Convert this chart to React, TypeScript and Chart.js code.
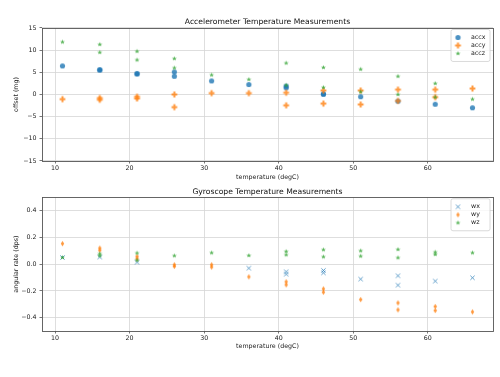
import React, { useEffect, useRef } from 'react';
import { Chart, registerables } from 'chart.js';
Chart.register(...registerables);

// ---------- Data ----------
const accTitle = 'Accelerometer Temperature Measurements';
const gyroTitle = 'Gyroscope Temperature Measurements';
const xAxisLabel = 'temperature (degC)';
const accYLabel = 'offset (mg)';
const gyroYLabel = 'angular rate (dps)';

const xTickValues = [10, 20, 30, 40, 50, 60];
const xTickLabels = ['10', '20', '30', '40', '50', '60'];
const accYTickValues = [-15, -10, -5, 0, 5, 10, 15];
const accYTickLabels = ['\u221215', '\u221210', '\u22125', '0', '5', '10', '15'];
const gyroYTickValues = [-0.4, -0.2, 0, 0.2, 0.4];
const gyroYTickLabels = ['\u22120.4', '\u22120.2', '0.0', '0.2', '0.4'];

const accxTemps = [11, 16, 16, 21, 21, 26, 26, 31, 36, 41, 41, 46, 46, 51, 56, 61, 66];
const accxValues = [6.45, 5.5, 5.6, 4.6, 4.75, 5.1, 4.1, 3.06, 2.25, 1.9, 1.5, 0.05, 0.15, -0.5, -1.5, -2.2, -3.0];
const accyTemps = [11, 16, 16, 21, 21, 26, 26, 31, 36, 41, 41, 46, 46, 51, 51, 56, 56, 61, 61, 66];
const accyValues = [-1.05, -0.8, -1.2, -0.5, -0.9, 0.0, -2.85, 0.3, 0.3, 0.4, -2.45, 0.9, -2.05, 0.9, -2.25, 1.1, -1.45, 1.1, -0.6, 1.35];
const acczTemps = [11, 16, 16, 21, 21, 26, 26, 31, 36, 41, 41, 46, 46, 51, 51, 56, 56, 61, 61, 66];
const acczValues = [11.85, 11.3, 9.5, 9.75, 7.8, 8.1, 6.0, 4.4, 3.4, 7.1, 2.1, 6.1, 1.6, 5.7, 0.6, 4.1, 0.0, 2.5, -0.6, -1.05];

const wxTemps = [11, 16, 21, 36, 41, 41, 46, 46, 51, 56, 56, 61, 66];
const wxValues = [0.05, 0.053, 0.015, -0.03, -0.057, -0.075, -0.047, -0.065, -0.112, -0.087, -0.157, -0.127, -0.102];
const wyTemps = [11, 16, 16, 21, 21, 26, 26, 31, 31, 36, 41, 41, 46, 46, 51, 56, 56, 61, 61, 66];
const wyValues = [0.153, 0.12, 0.103, 0.058, 0.04, -0.005, -0.017, -0.005, -0.022, -0.095, -0.132, -0.155, -0.185, -0.21, -0.265, -0.29, -0.342, -0.317, -0.347, -0.357];
const wzTemps = [11, 16, 16, 21, 21, 26, 31, 36, 41, 41, 46, 46, 51, 51, 56, 56, 61, 61, 66];
const wzValues = [0.05, 0.078, 0.063, 0.083, 0.03, 0.063, 0.085, 0.065, 0.095, 0.07, 0.108, 0.055, 0.1, 0.06, 0.11, 0.048, 0.09, 0.073, 0.085];

const BLUE = '#1f77b4';
const ORANGE = '#ff7f0e';
const GREEN = '#2ca02c';
const FONT = 'DejaVu Sans';
const TITLE_SIZE = 7.65;
const LABEL_SIZE = 6.3;

// ---------- Markers ----------
function makeMarker(kind: string, color: string): HTMLCanvasElement {
  const s = 9;
  const c = document.createElement('canvas');
  c.width = s;
  c.height = s;
  const g = c.getContext('2d')!;
  const m = s / 2;
  g.globalAlpha = 0.8;
  g.fillStyle = color;
  g.strokeStyle = color;
  g.beginPath();
  if (kind === 'o') {
    g.arc(m, m, 2.6, 0, Math.PI * 2);
    g.fill();
  } else if (kind === 'P') {
    const r = 2.9, w = 1.0;
    const pts = [
      [-w, -r], [w, -r], [w, -w], [r, -w], [r, w], [w, w], [w, r], [-w, r], [-w, w], [-r, w], [-r, -w], [-w, -w],
    ];
    pts.forEach(([px, py], i) => (i ? g.lineTo(m + px, m + py) : g.moveTo(m + px, m + py)));
    g.closePath();
    g.fill();
  } else if (kind === '*') {
    const ro = 2.6, ri = 1.05;
    for (let i = 0; i < 10; i++) {
      const a = -Math.PI / 2 + (i * Math.PI) / 5;
      const r = i % 2 ? ri : ro;
      const px = m + r * Math.cos(a), py = m + r * Math.sin(a);
      i ? g.lineTo(px, py) : g.moveTo(px, py);
    }
    g.closePath();
    g.fill();
  } else if (kind === 'x') {
    const h = 2.1;
    g.lineWidth = 0.9;
    g.moveTo(m - h, m - h); g.lineTo(m + h, m + h);
    g.moveTo(m - h, m + h); g.lineTo(m + h, m - h);
    g.stroke();
  } else if (kind === 'd') {
    const hh = 2.8, hw = 1.7;
    g.moveTo(m, m - hh); g.lineTo(m + hw, m); g.lineTo(m, m + hh); g.lineTo(m - hw, m);
    g.closePath();
    g.fill();
  }
  return c;
}

function pts(temps: number[], vals: number[]) {
  return temps.map((t, i) => ({ x: t, y: vals[i] }));
}

const framePlugin = {
  id: 'frame',
  afterDraw(chart: any) {
    const { ctx, chartArea: a } = chart;
    ctx.save();
    ctx.strokeStyle = '#555';
    ctx.lineWidth = 0.9;
    ctx.strokeRect(Math.round(a.left) + 0.5, Math.round(a.top) + 0.5, Math.round(a.right - a.left), Math.round(a.bottom - a.top));
    ctx.restore();
  },
};

function legendPlugin(items: { label: string; img: HTMLCanvasElement }[]) {
  return {
    id: 'mplLegend',
    afterDraw(chart: any) {
      const { ctx, chartArea: a } = chart;
      const w = 39, h = 32;
      const x0 = a.right - 3 - w, y0 = a.top + 1.5;
      ctx.save();
      ctx.beginPath();
      const r = 2;
      ctx.moveTo(x0 + r, y0);
      ctx.arcTo(x0 + w, y0, x0 + w, y0 + h, r);
      ctx.arcTo(x0 + w, y0 + h, x0, y0 + h, r);
      ctx.arcTo(x0, y0 + h, x0, y0, r);
      ctx.arcTo(x0, y0, x0 + w, y0, r);
      ctx.closePath();
      ctx.fillStyle = 'rgba(255,255,255,0.8)';
      ctx.fill();
      ctx.strokeStyle = '#d0d0d0';
      ctx.lineWidth = 0.8;
      ctx.stroke();
      ctx.font = `${LABEL_SIZE}px "${FONT}"`;
      ctx.fillStyle = '#222';
      ctx.textAlign = 'left';
      ctx.textBaseline = 'middle';
      items.forEach((it, i) => {
        const cy = y0 + 8 + i * 8;
        ctx.drawImage(it.img, x0 + 7 - it.img.width / 2, cy - it.img.height / 2);
        ctx.fillText(it.label, x0 + 20, cy);
      });
      ctx.restore();
    },
  };
}

function makeConfig(opts: {
  title: string;
  yLabel: string;
  yMin: number;
  yMax: number;
  yTicks: number[];
  yLabels: string[];
  datasets: any[];
  legend: { label: string; img: HTMLCanvasElement }[];
  titlePad: { top: number; bottom: number };
  bottomPad: number;
  xTitleBottom: number;
}): any {
  const gridColor = '#d6d6d6';
  return {
    type: 'scatter',
    data: { datasets: opts.datasets },
    options: {
      animation: false,
      responsive: false,
      devicePixelRatio: 1,
      events: [],
      layout: { padding: { left: 0, right: 7, top: 0, bottom: opts.bottomPad } },
      plugins: {
        legend: { display: false },
        tooltip: { enabled: false },
        title: {
          display: true,
          fullSize: false,
          text: opts.title,
          color: '#111',
          font: { family: FONT, size: TITLE_SIZE, weight: 'normal', lineHeight: 1.2 },
          padding: opts.titlePad,
        },
      },
      scales: {
        x: {
          type: 'linear',
          min: 8.25,
          max: 68.75,
          afterBuildTicks: (s: any) => {
            s.ticks = xTickValues.map((v) => ({ value: v }));
          },
          afterFit: (s: any) => {
            s.height = 21;
          },
          ticks: {
            color: '#222',
            font: { family: FONT, size: LABEL_SIZE },
            padding: 1.5,
            maxRotation: 0,
            autoSkip: false,
            callback: (v: number) => xTickLabels[xTickValues.indexOf(v)],
          },
          grid: { color: gridColor, lineWidth: 0.8, tickColor: '#555', tickLength: 2.5 },
          border: { display: false },
          title: {
            display: true,
            text: xAxisLabel,
            color: '#222',
            font: { family: FONT, size: LABEL_SIZE, lineHeight: 1.2 },
            padding: { top: 0, bottom: opts.xTitleBottom },
          },
        },
        y: {
          type: 'linear',
          min: opts.yMin,
          max: opts.yMax,
          afterBuildTicks: (s: any) => {
            s.ticks = opts.yTicks.map((v) => ({ value: v }));
          },
          afterFit: (s: any) => {
            s.width = 42;
          },
          ticks: {
            color: '#222',
            font: { family: FONT, size: LABEL_SIZE },
            padding: 3,
            autoSkip: false,
            callback: (v: number) => {
              const i = opts.yTicks.findIndex((t) => Math.abs(t - v) < 1e-9);
              return i >= 0 ? opts.yLabels[i] : '';
            },
          },
          grid: { color: gridColor, lineWidth: 0.8, tickColor: '#555', tickLength: 2.5 },
          border: { display: false },
          title: {
            display: true,
            text: opts.yLabel,
            color: '#222',
            font: { family: FONT, size: LABEL_SIZE, lineHeight: 1.2 },
            padding: { top: 13, bottom: 0 },
          },
        },
      },
    },
    plugins: [framePlugin, legendPlugin(opts.legend)],
  };
}

export default function App() {
  const topRef = useRef<HTMLCanvasElement>(null);
  const botRef = useRef<HTMLCanvasElement>(null);

  useEffect(() => {
    const mAccx = makeMarker('o', BLUE);
    const mAccy = makeMarker('P', ORANGE);
    const mAccz = makeMarker('*', GREEN);
    const mWx = makeMarker('x', BLUE);
    const mWy = makeMarker('d', ORANGE);
    const mWz = makeMarker('*', GREEN);

    const ds = (label: string, data: any[], img: HTMLCanvasElement, order: number) => ({
      label,
      data,
      pointStyle: img,
      pointRadius: 3,
      order,
      showLine: false,
    });

    const top = new Chart(
      topRef.current!,
      makeConfig({
        title: accTitle,
        yLabel: accYLabel,
        yMin: -15,
        yMax: 15,
        yTicks: accYTickValues,
        yLabels: accYTickLabels,
        datasets: [
          ds('accx', pts(accxTemps, accxValues), mAccx, 3),
          ds('accy', pts(accyTemps, accyValues), mAccy, 2),
          ds('accz', pts(acczTemps, acczValues), mAccz, 1),
        ],
        legend: [
          { label: 'accx', img: mAccx },
          { label: 'accy', img: mAccy },
          { label: 'accz', img: mAccz },
        ],
        titlePad: { top: 17.3, bottom: 1.5 },
        bottomPad: 0,
        xTitleBottom: 1.3,
      })
    );
    const bot = new Chart(
      botRef.current!,
      makeConfig({
        title: gyroTitle,
        yLabel: gyroYLabel,
        yMin: -0.5,
        yMax: 0.5,
        yTicks: gyroYTickValues,
        yLabels: gyroYTickLabels,
        datasets: [
          ds('wx', pts(wxTemps, wxValues), mWx, 3),
          ds('wy', pts(wyTemps, wyValues), mWy, 2),
          ds('wz', pts(wzTemps, wzValues), mWz, 1),
        ],
        legend: [
          { label: 'wx', img: mWx },
          { label: 'wy', img: mWy },
          { label: 'wz', img: mWz },
        ],
        titlePad: { top: 5, bottom: 1.1 },
        bottomPad: 25,
        xTitleBottom: 2,
      })
    );
    return () => {
      top.destroy();
      bot.destroy();
    };
  }, []);

  return (
    <div style={{ position: 'absolute', left: 0, top: 0, width: 500, height: 377, background: '#fff' }}>
      <canvas ref={topRef} width={500} height={182} style={{ position: 'absolute', left: 0, top: 0, width: 500, height: 182 }} />
      <canvas ref={botRef} width={500} height={195} style={{ position: 'absolute', left: 0, top: 182, width: 500, height: 195 }} />
    </div>
  );
}
